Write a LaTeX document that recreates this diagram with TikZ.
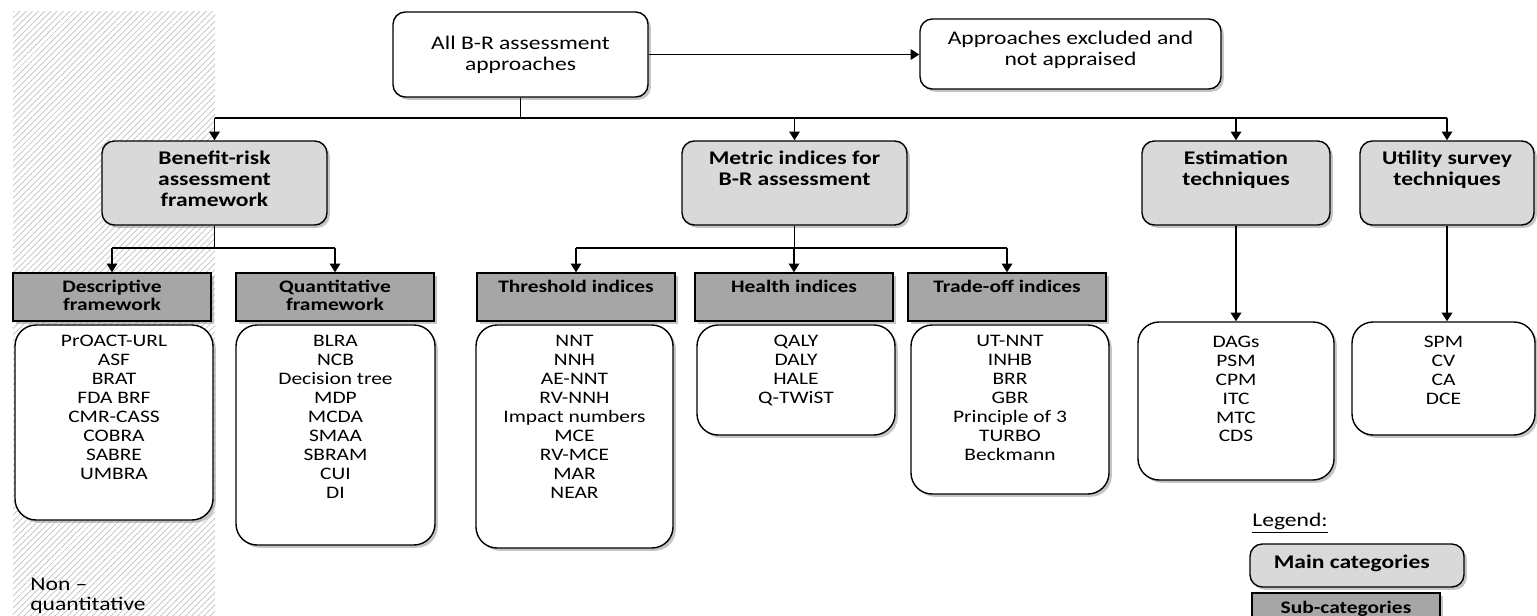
\documentclass[tikz,border=0pt]{standalone}
\usepackage{fontspec}
\setmainfont{Carlito}[FakeStretch=1.22]
\usetikzlibrary{arrows.meta,positioning,fit,shadows,patterns.meta}

\definecolor{maingray}{HTML}{D9D9D9}
\definecolor{subgray}{HTML}{A6A6A6}

\begin{document}
\begin{tikzpicture}[x=0.02cm, y=-0.02cm,
  box/.style={draw=black, line width=0.8pt, inner sep=0pt,
    drop shadow={shadow xshift=1.6pt, shadow yshift=-1.6pt, fill=black!45}},
  topbox/.style={box, fill=white, rounded corners=7pt},
  mainbox/.style={box, fill=maingray, rounded corners=7pt},
  subbox/.style={box, fill=subgray},
  listbox/.style={box, fill=white, rounded corners=12pt},
  toptxt/.style={align=center, inner sep=0pt, font=\fontsize{11}{11.8}\selectfont},
  maintxt/.style={anchor=north, align=center, inner sep=0pt,
    font=\bfseries\fontsize{11}{11.8}\selectfont},
  subtxt/.style={anchor=north, align=center, inner sep=0pt,
    font=\bfseries\fontsize{10}{10.6}\selectfont},
  listtxt/.style={anchor=north, align=center, inner sep=0pt,
    font=\fontsize{10}{10.8}\selectfont},
  wire/.style={line width=1pt},
  link/.style={wire, -{Triangle[width=6pt,length=5pt]}}]

  \useasboundingbox (0,0) rectangle (1537,615);
  \clip (0,0) rectangle (1537,615);

  % Hatched band
  \fill[pattern={Lines[angle=45,distance=2.5pt,line width=0.4pt]},
        pattern color=gray!50] (13,12) rectangle (215,615);

  % Top row
  \node[topbox, fit={(393,12) (648,97)}] (all) {};
  \node[topbox, fit={(920,19) (1221,89)}] (excl) {};
  \node[toptxt] (allt) at (all.center) {All B-R assessment\\approaches};
  \node[toptxt] (exclt) at ([yshift=2.5pt]excl.center) {Approaches excluded and\\not appraised};

  % Main categories
  \node[mainbox, fit={(102,141) (327,225)}] (brf) {};
  \node[mainbox, fit={(682,141) (907,225)}] (mir) {};
  \node[mainbox, fit={(1142,141) (1330,225)}] (est) {};
  \node[mainbox, fit={(1360,141) (1534,225)}] (ust) {};
  \node[maintxt] (brft) at ([yshift=-6pt]brf.north) {Benefit-risk\\assessment\\framework};
  \node[maintxt] (mirt) at ([yshift=-6pt]mir.north) {Metric indices for\\B-R assessment};
  \node[maintxt] (estt) at ([yshift=-6pt]est.north) {Estimation\\techniques};
  \node[maintxt] (ustt) at ([yshift=-6pt]ust.north) {Utility survey\\techniques};

  % Sub-categories
  \node[subbox, fit={(13,273) (211,321)}] (desc) {};
  \node[subbox, fit={(236,273) (434,321)}] (quan) {};
  \node[subbox, fit={(477,273) (675,321)}] (thr) {};
  \node[subbox, fit={(695,273) (893,321)}] (hea) {};
  \node[subbox, fit={(908,273) (1106,321)}] (tra) {};
  \node[subtxt] (desct) at ([yshift=-4pt]desc.north) {Descriptive\\framework};
  \node[subtxt] (quant) at ([yshift=-4pt]quan.north) {Quantitative\\framework};
  \node[subtxt] (thrt) at ([yshift=-4pt]thr.north) {Threshold indices};
  \node[subtxt] (heat) at ([yshift=-4pt]hea.north) {Health indices};
  \node[subtxt] (trat) at ([yshift=-4pt]tra.north) {Trade-off indices};

  % Lists
  \node[listbox, fit={(15,325) (213,520)}] (descl) {};
  \node[listbox, fit={(236,325) (435,545)}] (quanl) {};
  \node[listbox, fit={(476,325) (673,548)}] (thrl) {};
  \node[listbox, fit={(697,325) (895,435)}] (heal) {};
  \node[listbox, fit={(911,325) (1109,494)}] (tral) {};
  \node[listbox, fit={(1138,322) (1334,480)}] (estl) {};
  \node[listbox, fit={(1352,322) (1535,435)}] (ustl) {};
  \node[listtxt] at ([yshift=-6pt]descl.north)
    {PrOACT-URL\\ASF\\BRAT\\FDA BRF\\CMR-CASS\\COBRA\\SABRE\\UMBRA};
  \node[listtxt] at ([yshift=-6pt]quanl.north)
    {BLRA\\NCB\\Decision tree\\MDP\\MCDA\\SMAA\\SBRAM\\CUI\\DI};
  \node[listtxt] at ([yshift=-6pt]thrl.north)
    {NNT\\NNH\\AE-NNT\\RV-NNH\\Impact numbers\\MCE\\RV-MCE\\MAR\\NEAR};
  \node[listtxt] at ([yshift=-6pt]heal.north) {QALY\\DALY\\HALE\\Q-TWiST};
  \node[listtxt] at ([yshift=-6pt]tral.north)
    {UT-NNT\\INHB\\BRR\\GBR\\Principle of 3\\TURBO\\Beckmann};
  \node[listtxt] at ([yshift=-8pt]estl.north) {DAGs\\PSM\\CPM\\ITC\\MTC\\CDS};
  \node[listtxt] at ([yshift=-8pt]ustl.north) {SPM\\CV\\CA\\DCE};

  % Connectors
  \coordinate (bus) at (521,118);
  \coordinate (bus2) at (0,248);
  \draw[link] (all.east) -- (all.east -| excl.west);
  \draw[wire] (all.south) -- (all.south |- bus);
  \draw[wire] (brf.north |- bus) -- (ust.north |- bus);
  \foreach \n in {brf,mir,est,ust}
    \draw[link] (\n.north |- bus) -- (\n.north);
  \draw[wire] (brf.south) -- (brf.south |- bus2);
  \draw[wire] (desc.north |- bus2) -- (quan.north |- bus2);
  \foreach \n in {desc,quan}
    \draw[link] (\n.north |- bus2) -- (\n.north);
  \draw[wire] (mir.south) -- (mir.south |- bus2);
  \draw[wire] (thr.north |- bus2) -- (tra.north |- bus2);
  \foreach \n in {thr,hea,tra}
    \draw[link] (\n.north |- bus2) -- (\n.north);
  \draw[link, line width=1.2pt] (est.south) -- (est.south |- estl.north);
  \draw[link, line width=1.2pt] (ust.south) -- (ust.south |- ustl.north);

  % Legend
  \node[anchor=west, inner sep=0pt, font=\fontsize{11}{12}\selectfont] (legt)
    at (1252,523) {\underline{Legend:}};
  \node[mainbox, fit={(1250,544) (1464,587)}] (legm) {};
  \node[subbox, fit={(1252,593) (1440,624)}] (legs) {};
  \node[inner sep=0pt, font=\bfseries\fontsize{11}{12}\selectfont] (legmt)
    at ([yshift=1pt,xshift=-3pt]legm.center) {Main categories};
  \node[inner sep=0pt, font=\bfseries\fontsize{10}{11}\selectfont] (legst)
    at (legs.center) {Sub-categories};

  % Band label
  \node[anchor=north west, align=left, inner sep=0pt,
        font=\fontsize{11}{11.4}\selectfont] (nonq) at (30,578) {Non --\\quantitative};
\end{tikzpicture}
\end{document}
